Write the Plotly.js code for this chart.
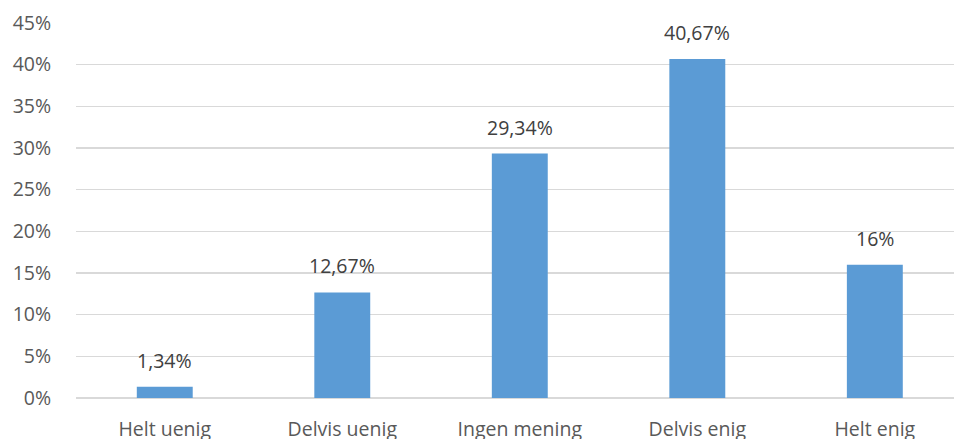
<!DOCTYPE html>
<html>
<head>
<meta charset="utf-8">
<script src="https://cdn.plot.ly/plotly-3.0.1.min.js"></script>
<style>html,body{margin:0;padding:0;background:#fff;}#chart{width:954px;height:439px;}</style>
</head>
<body>
<div id="chart"></div>
<script>
const categories = ["Helt uenig", "Delvis uenig", "Ingen mening", "Delvis enig", "Helt enig"];
const values = [1.34, 12.67, 29.34, 40.67, 16];
const labels = values.map(v => String(v).replace('.', ',') + '%');

const FONT = "Open Sans, Liberation Sans, sans-serif";

const trace = {
  type: 'bar',
  x: categories,
  y: values,
  marker: {color: '#5B9BD5'},
  width: 0.315,
  hoverinfo: 'none'
};

const annotations = categories.map((c, i) => ({
  x: c, y: values[i], xref: 'x', yref: 'y',
  text: labels[i], showarrow: false,
  yanchor: 'bottom', yshift: 11,
  font: {family: FONT, size: 19.5, color: '#404040'}
}));

const layout = {
  width: 954, height: 439,
  margin: {l: 76, r: 0, t: 23, b: 41},
  paper_bgcolor: '#fff', plot_bgcolor: '#fff',
  showlegend: false,
  xaxis: {
    type: 'category',
    range: [-0.5, 4.446],
    showgrid: false, zeroline: false, showline: false,
    ticks: 'outside', ticklen: 14, tickcolor: 'rgba(0,0,0,0)',
    tickfont: {family: FONT, size: 19.5, color: '#595959'}
  },
  yaxis: {
    range: [0, 45], dtick: 5, ticksuffix: '%',
    showgrid: true, gridcolor: '#d9d9d9', gridwidth: 1.3,
    zeroline: true, zerolinecolor: '#d9d9d9', zerolinewidth: 1.3,
    showline: false,
    ticks: 'outside', ticklen: 20, tickcolor: 'rgba(0,0,0,0)',
    tickfont: {family: FONT, size: 19.5, color: '#595959'}
  },
  annotations: annotations
};

Plotly.newPlot('chart', [trace], layout, {displayModeBar: false, staticPlot: true});
</script>
</body>
</html>
